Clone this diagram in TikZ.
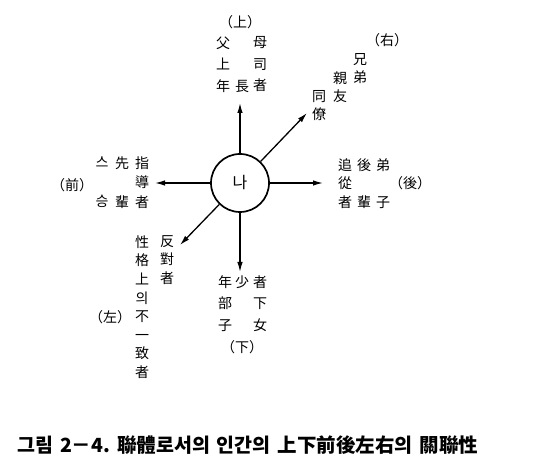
\documentclass[tikz,border=0pt]{standalone}
\usepackage{fontspec}
\usetikzlibrary{arrows.meta}
\newfontfamily\kor{Noto Sans CJK KR}
\tikzset{
  hanja/.style={font=\kor\fontsize{14}{#1}\selectfont, align=center, inner sep=0pt},
  hanja/.default=18.5,
  paren/.style={font=\kor\fontsize{14}{14}\selectfont, inner sep=0pt},
  arrowline/.style={line width=1.3pt, -{Latex[length=10pt,width=5.5pt]}}
}
\newcommand\capsp{\hspace{7pt}}

\begin{document}
\begin{tikzpicture}[x=1pt, y=-1pt]
	%%%%% START %%%%%
	\useasboundingbox (0, 0) rectangle (555, 468);
	
	\node[circle, draw, line width=1.7pt, minimum size=58pt, inner sep=0pt,
	      font=\kor\fontsize{16}{16}\selectfont] (me) at (240, 183) {나};
	
	% tips
	\coordinate (tipUp) at (240, 103);
	\coordinate (tipUR) at (307, 113);
	\coordinate (tipRt) at (323, 183);
	\coordinate (tipLf) at (155, 183);
	\coordinate (tipLL) at (180, 245);
	\coordinate (tipDn) at (240, 272);
	
	\draw[arrowline] (me) -- (tipUp);
	\draw[arrowline] (me) -- (tipUR);
	\draw[arrowline] (me) -- (tipRt);
	\draw[arrowline] (me) -- (tipLf);
	\draw[arrowline] (me) -- (tipLL);
	\draw[arrowline] (me) -- (tipDn);
	
	% up
	\node[paren] (upParen) at (240, 22) {（上）};
	\node[hanja=21.5] (upA) at (223, 64.5) {父\\上\\年};
	\node[hanja] (upB) at (242, 86) {長};
	\node[hanja=21.5] (upC) at (260, 64.5) {母\\司\\者};
	
	% right (upper right)
	\node[paren] (urParen) at (387, 40) {（右）};
	\node[hanja=17.5] (urA) at (360, 68.5) {兄\\弟};
	\node[hanja=17.5] (urB) at (340, 87) {親\\友};
	\node[hanja=17.5] (urC) at (319, 105.5) {同\\僚};
	
	% front (left)
	\node[paren] (lfParen) at (72, 185) {（前）};
	\node[hanja=19.5] (lfA) at (102, 182.5) {스\\\mbox{}\\승};
	\node[hanja=19.5] (lfB) at (122, 182.5) {先\\\mbox{}\\輩};
	\node[hanja=19.5] (lfC) at (142, 182.5) {指\\導\\者};
	
	% back (right)
	\node[paren] (rtParen) at (410, 183) {（後）};
	\node[hanja=18.5] (rtA) at (345, 183.5) {追\\從\\者};
	\node[hanja=18.5] (rtB) at (364, 183.5) {後\\\mbox{}\\輩};
	\node[hanja=18.5] (rtC) at (383, 183.5) {弟\\\mbox{}\\子};
	
	% left (lower left)
	\node[paren] (llParen) at (110, 317) {（左）};
	\node[hanja=18.6] (llA) at (167, 260) {反\\對\\者};
	\node[hanja=18.6] (llB) at (142, 307) {性\\格\\上\\의\\不\\一\\致\\者};
	
	% down
	\node[paren] (dnParen) at (242, 347) {（下）};
	\node[hanja=21.5] (dnA) at (225, 303.5) {年\\部\\子};
	\node[hanja] (dnB) at (242, 282) {少};
	\node[hanja=21.5] (dnC) at (260, 303.5) {者\\下\\女};
	
	% caption
	\node[anchor=west, inner sep=0pt, font=\kor\bfseries\fontsize{19.5}{19.5}\selectfont]
	     (caption) at (17, 445) {그림\capsp 2－4.\capsp 聯體로서의\capsp 인간의\capsp 上下前後左右의\capsp 關聯性};
	%%%%% END %%%%%
\end{tikzpicture}
\end{document}
